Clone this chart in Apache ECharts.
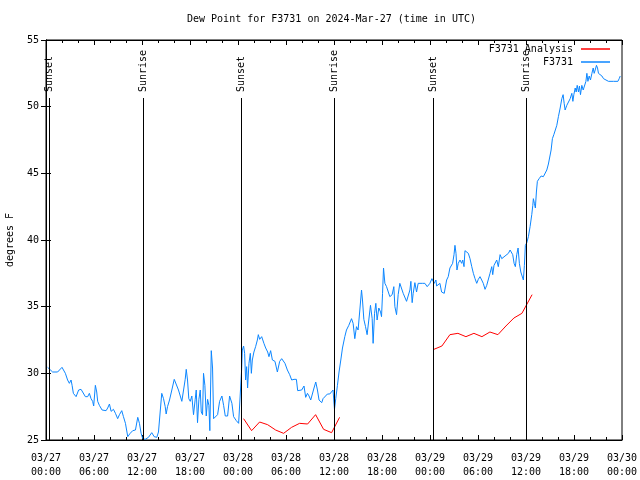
<!DOCTYPE html>
<html><head><meta charset="utf-8">
<script src="https://cdn.jsdelivr.net/npm/echarts@6/dist/echarts.min.js"></script>
<style>html,body{margin:0;padding:0;background:#fff}#c{width:640px;height:480px}</style>
</head><body><div id="c"></div>
<script>
const titleText = 'Dew Point for F3731 on 2024-Mar-27 (time in UTC)';
const yAxisTitle = 'degrees F';
const yMin = 25, yMax = 55, yStep = 5;
const xMinHours = 0, xMaxHours = 72, xStepHours = 6;
const xTickDates = ['03/27','03/27','03/27','03/27','03/28','03/28','03/28','03/28','03/29','03/29','03/29','03/29','03/30'];
const xTickTimes = ['00:00','06:00','12:00','18:00','00:00','06:00','12:00','18:00','00:00','06:00','12:00','18:00','00:00'];

// hours since 03/27 00:00 UTC, dew point °F
const stationDay1Morning = [[0.20,30.45],[0.83,30.1],[1.45,30.1],[2.00,30.45],[2.42,30.0],[2.70,29.5],[2.92,29.25],[3.13,29.5],[3.26,29.1],[3.42,28.5],[3.76,28.25],[4.08,28.75],[4.38,28.8],[4.58,28.6],[4.92,28.25],[5.21,28.25],[5.42,28.5],[5.63,28.1],[5.83,27.9],[5.96,27.55],[6.17,29.1],[6.34,28.6],[6.46,27.9],[6.67,27.6],[7.01,27.25],[7.51,27.2],[7.71,27.4],[7.93,27.7],[8.14,27.15],[8.43,27.3],[8.68,27.0],[8.96,26.6],[9.18,26.9],[9.47,27.2],[9.68,26.75],[9.93,26.25],[10.22,25.25],[10.52,25.5],[10.84,25.7],[11.18,25.75],[11.47,26.7],[11.68,26.25],[11.89,25.5],[12.09,25.1]];
const stationDay1Evening = [[12.40,25.05],[12.81,25.2],[13.22,25.55],[13.52,25.25],[13.85,25.2],[14.06,25.6],[14.27,27.1],[14.47,28.5],[14.69,28.1],[14.90,27.5],[15.02,26.95],[15.19,27.5],[15.44,28.0],[15.73,28.75],[16.03,29.55],[16.28,29.55],[16.56,28.75],[16.78,28.6],[16.98,27.9],[17.19,27.9],[17.40,29.55],[17.53,30.3],[17.69,29.5],[17.85,28.1],[18.03,27.9],[18.23,28.3],[18.44,26.9],[18.65,28.05],[18.78,28.75],[18.94,26.3],[19.11,28.05],[19.28,28.75],[19.41,27.1],[19.57,26.9],[19.69,30.0],[19.86,29.1],[20.03,26.8],[20.20,28.05],[20.36,27.6],[20.48,25.7],[20.66,31.7],[20.82,30.4],[20.95,26.6],[21.16,26.55],[21.45,26.9],[21.70,27.9],[21.99,28.3],[22.20,27.6],[22.41,26.8],[22.70,26.8],[22.95,28.3],[23.24,27.75],[23.45,26.75],[23.79,26.45],[24.08,26.25],[24.29,26.35]];
const stationDay2 = [[24.45,30.25],[24.54,31.75],[24.70,32.05],[24.83,31.5],[24.95,29.5],[25.08,30.5],[25.20,28.9],[25.37,30.75],[25.54,31.5],[25.67,30.0],[25.79,31.0],[25.99,31.6],[26.20,32.0],[26.42,32.5],[26.54,32.9],[26.71,32.55],[26.96,32.75],[27.24,32.25],[27.46,31.9],[27.71,31.6],[27.87,31.25],[28.08,31.7],[28.30,31.0],[28.62,30.9],[28.92,30.1],[29.21,30.9],[29.46,31.1],[29.67,31.2],[29.87,30.75],[30.17,30.25],[30.46,29.9],[30.71,29.5],[31.00,29.55],[31.30,29.55],[31.46,28.7],[31.71,28.8],[31.96,28.75],[32.25,29.05],[32.46,28.2],[32.68,28.5],[32.88,28.3],[33.09,28.0],[33.30,28.1],[33.50,28.9],[33.72,29.35],[33.93,28.75],[34.13,28.0],[34.47,27.8],[34.63,28.1],[34.88,28.25],[35.18,28.45],[35.47,28.45],[35.72,28.45],[35.88,28.75],[36.06,27.3],[36.22,28.1],[36.43,29.1],[36.63,30.1],[36.85,31.0],[37.06,31.9],[37.35,32.75],[37.56,33.25]];
const stationDay2Night = [[37.85,33.6],[38.19,34.1],[38.39,33.75],[38.60,32.6],[38.81,33.5],[39.01,33.25],[39.23,34.75],[39.44,36.25],[39.56,35.5],[39.73,34.05],[39.94,33.5],[40.14,32.9],[40.35,34.0],[40.56,35.1],[40.77,34.1],[40.89,32.25],[41.07,34.5],[41.23,35.25],[41.39,34.0],[41.60,34.9],[41.82,34.6],[41.94,34.25],[42.07,36.0],[42.19,37.9],[42.36,36.75],[42.57,36.5],[42.77,36.4],[42.98,35.75],[43.27,35.9],[43.48,36.5],[43.61,35.0],[43.82,34.4],[44.02,35.9],[44.23,36.75],[44.45,36.6],[44.65,36.0],[44.86,36.0],[45.07,35.4],[45.27,35.4],[45.49,36.25],[45.61,36.9],[45.77,35.3],[45.90,36.0],[46.11,36.8],[46.32,36.1],[46.52,36.75],[46.74,36.7],[47.08,36.75],[47.36,36.75],[47.65,36.5],[47.99,36.75]];
const stationDay3Morning = [[48.24,37.1],[48.40,37.25],[48.53,36.75],[48.74,37.0],[48.83,36.55],[49.03,36.4],[49.24,36.75],[49.45,36.1],[49.66,36.25],[49.78,36.0],[49.91,35.9],[50.08,37.0],[50.28,37.25],[50.49,37.9],[50.62,38.0],[50.83,38.25],[51.00,38.9],[51.12,39.6],[51.25,39.0],[51.37,37.75],[51.53,38.25],[51.75,38.5],[51.96,38.25],[52.09,38.5],[52.25,38.0],[52.37,39.2],[52.58,39.25],[52.79,39.0],[53.00,38.6],[53.22,38.0],[53.42,37.5],[53.63,37.1],[53.84,36.75],[54.04,37.05],[54.25,37.25],[54.46,37.0],[54.66,36.75],[54.88,36.3],[55.09,36.6],[55.29,36.75],[55.50,37.5],[55.72,38.0],[55.84,37.4],[56.00,38.1],[56.17,38.0],[56.34,38.5],[56.54,38.0],[56.76,38.9],[56.97,38.6],[57.17,38.75],[57.38,38.8],[57.60,38.9],[57.80,39.0],[58.01,39.25],[58.22,39.4],[58.34,38.9],[58.51,38.25],[58.67,38.0],[58.84,38.9],[59.01,39.4],[59.17,38.25],[59.35,37.6],[59.51,37.5],[59.67,37.0],[59.80,38.1],[59.92,39.6]];
const stationDay3Afternoon = [[60.10,39.8],[60.30,40.25],[60.51,41.0],[60.72,41.9],[60.85,42.6],[60.92,43.1],[61.05,42.75],[61.17,42.4],[61.30,43.6],[61.42,44.4],[61.64,44.6],[61.89,44.8],[62.17,44.75],[62.39,44.75],[62.60,45.25],[62.80,45.7],[63.02,45.75],[63.14,46.75],[63.30,47.6],[63.48,47.9],[63.64,48.0],[63.85,48.6],[64.05,49.25],[64.27,49.9],[64.48,50.6],[64.64,50.9],[64.77,50.25],[64.89,49.75],[65.10,50.1],[65.31,50.1],[65.52,50.6],[65.73,51.0],[65.86,50.4],[65.98,50.9],[66.15,51.4],[66.27,51.1],[66.40,51.6],[66.56,51.1],[66.68,51.55],[66.81,50.9],[66.98,51.6],[67.15,51.25],[67.31,51.1],[67.49,51.9],[67.61,52.5],[67.74,51.9],[67.90,52.3],[68.06,52.0],[68.24,52.5],[68.40,52.9],[68.52,52.5],[68.65,52.75],[68.81,53.1],[68.94,52.9],[69.06,52.5],[69.27,52.5],[69.49,52.3],[69.69,52.1],[69.90,52.0],[70.31,51.9],[70.94,51.9],[71.49,51.9],[71.65,52.1],[71.78,52.3]];

const analysisHoursA = [24.70,25.70,26.70,27.70,28.70,29.70,30.70,31.70,32.70,33.70,34.70,35.70,36.70];
const analysisValuesA = [26.6,25.7,26.35,26.15,25.75,25.5,25.95,26.25,26.2,26.9,25.8,25.55,26.7];
const analysisHoursB = [48.49,49.49,50.49,51.49,52.49,53.49,54.49,55.49,56.49,57.49,58.49,59.49,60.76];
const analysisValuesB = [31.8,32.05,32.9,33.0,32.75,33.0,32.75,33.1,32.9,33.55,34.15,34.5,35.9];

const sunHours = [0.38, 12.10, 24.42, 36.02, 48.41, 60.02];
const sunLabels = ['Sunset','Sunrise','Sunset','Sunrise','Sunset','Sunrise'];

const FONT = '"DejaVu Sans Mono", "Liberation Mono", monospace';
const stationData = [].concat(stationDay1Morning, stationDay1Evening, stationDay2, stationDay2Night, stationDay3Morning, stationDay3Afternoon);
const pair = (hs, vs) => hs.map((h, i) => [h, vs[i]]);

const chart = echarts.init(document.getElementById('c'), null, {renderer: 'canvas'});
const xAxisBase = {
  type: 'value', min: xMinHours, max: xMaxHours, interval: xStepHours,
  axisLine: {show: true, lineStyle: {color: '#000', width: 1}},
  axisTick: {show: true, inside: true, length: 5, lineStyle: {color: '#000'}},
  minorTick: {show: true, splitNumber: 3, length: 3, lineStyle: {color: '#000'}},
  splitLine: {show: false}
};
const yAxisBase = {
  type: 'value', min: yMin, max: yMax, interval: yStep,
  axisLine: {show: true, lineStyle: {color: '#000', width: 1}},
  axisTick: {show: true, inside: true, length: 5, lineStyle: {color: '#000'}},
  splitLine: {show: false}
};
chart.setOption({
  animation: false,
  backgroundColor: '#fff',
  title: {text: titleText, left: 187, top: 14, padding: 0,
    textStyle: {fontFamily: FONT, fontSize: 10, fontWeight: 'normal', color: '#000'}},
  legend: {
    data: ['F3731 Analysis', 'F3731'], orient: 'vertical', align: 'right',
    right: 30, top: 44, itemWidth: 29, itemHeight: 1.5, itemGap: 3, padding: 0, icon: 'rect',
    textStyle: {fontFamily: FONT, fontSize: 10, color: '#000', padding: [0, 3, 0, 0]}
  },
  grid: {left: 46, right: 18, top: 40, bottom: 40, show: true, borderColor: '#000', borderWidth: 1,
    containLabel: false, outerBoundsMode: 'none'},
  xAxis: [
    Object.assign({}, xAxisBase, {position: 'bottom',
      axisLabel: {show: true, margin: 11, fontFamily: FONT, fontSize: 10, color: '#000', lineHeight: 14,
        formatter: v => { const i = Math.round((v - xMinHours) / xStepHours); return xTickDates[i] + '\n' + xTickTimes[i]; }}}),
    Object.assign({}, xAxisBase, {position: 'top', axisLabel: {show: false}})
  ],
  yAxis: [
    Object.assign({}, yAxisBase, {position: 'left', name: yAxisTitle, nameLocation: 'middle', nameGap: 31, nameRotate: 90,
      nameTextStyle: {fontFamily: FONT, fontSize: 10, color: '#000'},
      axisLabel: {margin: 7, fontFamily: FONT, fontSize: 10, color: '#000'}}),
    Object.assign({}, yAxisBase, {position: 'right', axisLabel: {show: false}})
  ],
  series: [
    {name: 'F3731 Analysis', type: 'line', data: pair(analysisHoursA, analysisValuesA), showSymbol: false, symbol: 'none',
      lineStyle: {color: '#ff0000', width: 1}, itemStyle: {color: '#ff0000'}, z: 2},
    {name: 'F3731 Analysis', type: 'line', data: pair(analysisHoursB, analysisValuesB), showSymbol: false, symbol: 'none',
      lineStyle: {color: '#ff0000', width: 1}, itemStyle: {color: '#ff0000'}, z: 2},
    {name: 'F3731', type: 'line', data: stationData, showSymbol: false, symbol: 'none',
      lineStyle: {color: '#0c86ff', width: 1}, itemStyle: {color: '#0c86ff'}, z: 3},
    {name: 'sun', type: 'custom', silent: true, z: 4, clip: false,
      data: sunHours.map(h => [h, yMin]),
      renderItem: function (params, api) {
        const p = api.coord([api.value(0), yMin]);
        const x = Math.round(p[0]) + 0.5;
        const cs = params.coordSys;
        const bottom = cs.y + cs.height;
        const top = cs.y + 58;
        return {type: 'group', children: [
          {type: 'line', shape: {x1: x, y1: top, x2: x, y2: bottom}, style: {stroke: '#000', lineWidth: 1}},
          {type: 'text', x: x, y: top - 6, rotation: Math.PI / 2,
            style: {text: sunLabels[params.dataIndex], align: 'left', verticalAlign: 'middle',
              font: '10px ' + FONT, fill: '#000'}}
        ]};
      }}
  ]
});
</script>
</body></html>
